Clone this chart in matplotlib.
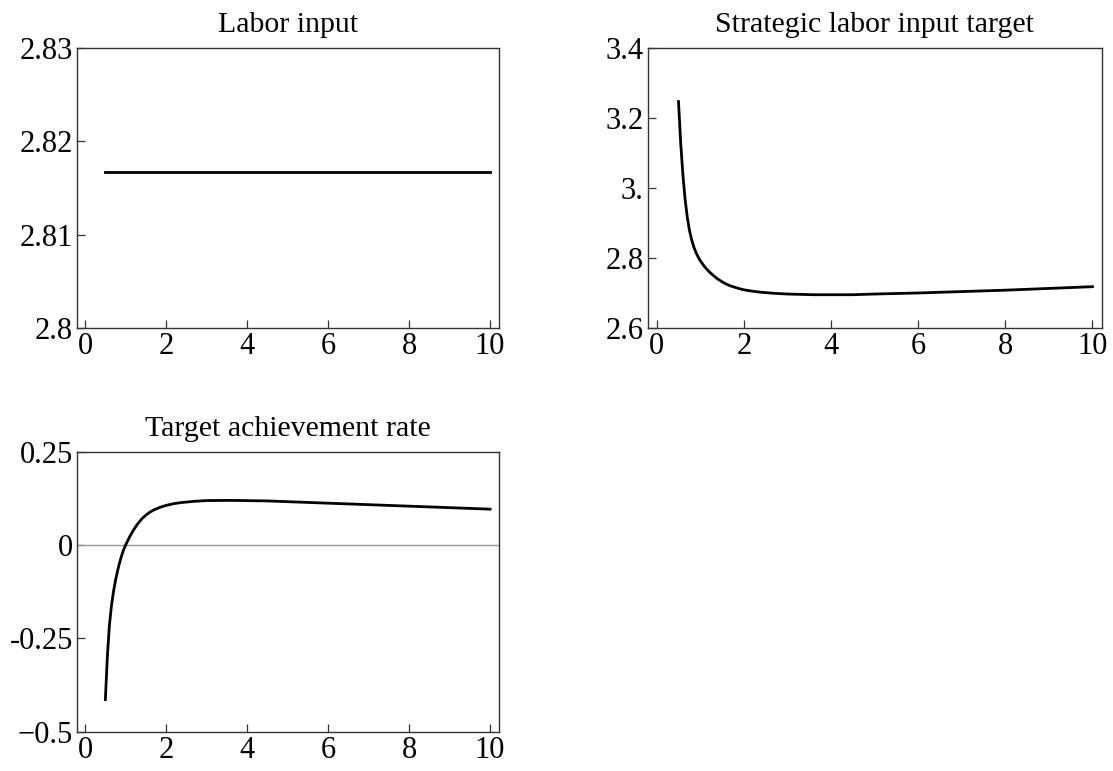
import matplotlib
matplotlib.use("Agg")
import matplotlib.pyplot as plt

plt.rcParams['font.family'] = ['Liberation Serif', 'DejaVu Serif']

# values
x_vals = [0.5, 0.55, 0.6, 0.65, 0.7, 0.75, 0.8, 0.85, 0.9, 0.95, 1.0, 1.1, 1.2,
          1.3, 1.4, 1.5, 1.6, 1.7, 1.85, 2.0, 2.2, 2.4, 2.7, 3.0, 3.6, 4.5,
          5.0, 6.0, 7.0, 8.0, 9.0, 10.0]
labor = [2.8167] * len(x_vals)
target = [3.247, 3.13, 3.04, 2.97, 2.918, 2.88, 2.853, 2.832, 2.816, 2.803,
          2.792, 2.775, 2.761, 2.750, 2.740, 2.732, 2.725, 2.720, 2.714, 2.709,
          2.705, 2.702, 2.699, 2.697, 2.695, 2.695, 2.697, 2.700, 2.704, 2.708,
          2.713, 2.718]
rate = [-0.414, -0.297, -0.215, -0.163, -0.125, -0.095, -0.070, -0.048, -0.029,
        -0.013, 0.0, 0.022, 0.041, 0.057, 0.070, 0.080, 0.088, 0.094, 0.101,
        0.106, 0.111, 0.114, 0.117, 0.119, 0.1195, 0.118, 0.116, 0.112, 0.108,
        0.104, 0.100, 0.096]

x_ticks = [0, 2, 4, 6, 8, 10]
labor_ticks = [2.8, 2.81, 2.82, 2.83]
labor_labels = ['2.8', '2.81', '2.82', '2.83']
target_ticks = [2.6, 2.8, 3.0, 3.2, 3.4]
target_labels = ['2.6', '2.8', '3.', '3.2', '3.4']
rate_ticks = [-0.5, -0.25, 0, 0.25]
rate_labels = ['\u22120.5', '-0.25', '0', '0.25']

fig = plt.figure(figsize=(11.13, 7.71), dpi=100)
ax1 = fig.add_axes([0.0692, 0.5746, 0.3791, 0.3632])
ax2 = fig.add_axes([0.5822, 0.5746, 0.4079, 0.3632])
ax3 = fig.add_axes([0.0692, 0.0510, 0.3791, 0.3632])


def style(ax, title, yticks, ylabels, ylim):
    ax.set_xlim(-0.2, 10.22)
    ax.set_ylim(*ylim)
    ax.set_xticks(x_ticks)
    ax.set_xticklabels([str(t) for t in x_ticks])
    ax.set_yticks(yticks)
    ax.set_yticklabels(ylabels)
    ax.tick_params(direction='in', length=6, width=0.9, labelsize=22,
                   top=False, right=False, color='#333333')
    ax.tick_params(axis='x', pad=3)
    ax.tick_params(axis='y', pad=3)
    for s in ax.spines.values():
        s.set_linewidth(1.0)
        s.set_color('#333333')
    ax.set_title(title, fontsize=21.5, pad=11.5)


ax1.plot(x_vals, labor, color='black', lw=2)
style(ax1, 'Labor input', labor_ticks, labor_labels, (2.8, 2.83))

ax2.plot(x_vals, target, color='black', lw=2)
style(ax2, 'Strategic labor input target', target_ticks, target_labels, (2.6, 3.4))

ax3.axhline(0, color='#999999', lw=1)
ax3.plot(x_vals, rate, color='black', lw=2)
style(ax3, 'Target achievement rate', rate_ticks, rate_labels, (-0.5, 0.25))

fig.savefig('out.png', dpi=100)
